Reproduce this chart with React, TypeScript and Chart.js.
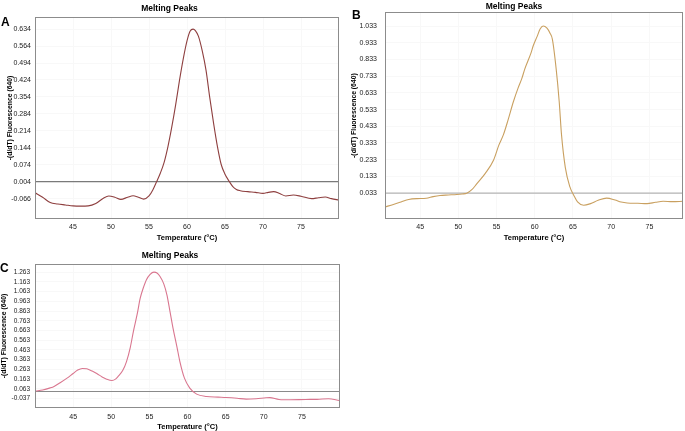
import React, { useEffect, useRef } from 'react';
import { Chart, registerables } from 'chart.js';
Chart.register(...registerables);

// ---------- Panel A ----------
const tempA = [40, 41, 42, 43, 44, 45, 46, 47, 48, 49, 49.7, 50.5, 51.3, 52.2, 52.9, 53.6, 54.3, 55, 55.5, 56, 56.5, 57, 57.5, 58, 58.5, 59, 59.5, 60, 60.4, 60.8, 61.1, 61.5, 62, 62.5, 63, 63.5, 64, 64.5, 65, 65.5, 66, 66.5, 67, 68, 69, 70, 70.7, 71.4, 72.2, 73, 74, 75, 76.4, 77.3, 78.2, 79, 80];
const valA = [-0.042, -0.06, -0.082, -0.088, -0.092, -0.096, -0.097, -0.096, -0.086, -0.064, -0.055, -0.06, -0.069, -0.06, -0.054, -0.06, -0.068, -0.055, -0.03, 0.004, 0.04, 0.085, 0.15, 0.23, 0.32, 0.42, 0.51, 0.585, 0.625, 0.634, 0.628, 0.605, 0.545, 0.465, 0.35, 0.245, 0.15, 0.075, 0.035, 0.008, -0.015, -0.028, -0.033, -0.037, -0.04, -0.044, -0.04, -0.037, -0.045, -0.055, -0.051, -0.056, -0.066, -0.062, -0.059, -0.066, -0.072];
const yTicksA = [-0.066, 0.004, 0.074, 0.144, 0.214, 0.284, 0.354, 0.424, 0.494, 0.564, 0.634];
const baseA = 0.004;

// ---------- Panel B ----------
const tempB = [40.4, 41.5, 42.5, 43.5, 44.6, 45.8, 46.7, 47.6, 48.7, 49.8, 50.5, 51.1, 51.8, 52.4, 53.5, 54.6, 55.3, 55.9, 56.5, 57.2, 57.8, 58.3, 58.7, 59.5, 59.8, 60.3, 60.7, 61.1, 61.6, 62.0, 62.3, 62.8, 63.2, 63.5, 64.0, 64.6, 65.1, 65.6, 66.4, 67.3, 68.3, 69.4, 70.5, 71.3, 72.1, 73.5, 74.7, 75.8, 76.8, 78, 79.4];
const valB = [-0.05, -0.035, -0.02, -0.005, 0.0, 0.002, 0.012, 0.019, 0.022, 0.025, 0.028, 0.032, 0.055, 0.088, 0.15, 0.23, 0.32, 0.383, 0.47, 0.58, 0.66, 0.718, 0.777, 0.871, 0.915, 0.97, 1.015, 1.033, 1.02, 0.99, 0.955, 0.777, 0.58, 0.383, 0.186, 0.07, 0.02, -0.02, -0.04, -0.03, -0.01, 0.003, -0.008, -0.02, -0.026, -0.028, -0.03, -0.022, -0.016, -0.018, -0.016];
const yTicksB = [0.033, 0.133, 0.233, 0.333, 0.433, 0.533, 0.633, 0.733, 0.833, 0.933, 1.033];
const baseB = 0.033;

// ---------- Panel C ----------
const tempC = [40.1, 41.0, 42.0, 42.5, 43.3, 44.2, 45.0, 45.6, 46.2, 46.8, 47.5, 48.1, 48.8, 49.4, 50.1, 50.6, 50.9, 51.5, 52.0, 52.5, 52.9, 53.4, 53.8, 54.2, 54.6, 55.1, 55.6, 56.0, 56.4, 56.9, 57.3, 57.7, 58.1, 58.6, 59.0, 59.6, 60.3, 61.2, 62.5, 64.0, 65.1, 66.5, 67.7, 69.0, 70.3, 70.8, 72.0, 73.5, 75.5, 77.0, 78.5, 79.9];
const valC = [0.04, 0.05, 0.072, 0.087, 0.125, 0.172, 0.22, 0.255, 0.272, 0.268, 0.245, 0.22, 0.185, 0.162, 0.148, 0.165, 0.19, 0.25, 0.343, 0.49, 0.652, 0.83, 0.995, 1.1, 1.183, 1.24, 1.263, 1.255, 1.218, 1.14, 1.03, 0.86, 0.687, 0.5, 0.343, 0.172, 0.07, 0.008, -0.017, -0.023, -0.027, -0.035, -0.044, -0.04, -0.03, -0.028, -0.047, -0.05, -0.047, -0.046, -0.04, -0.057];
const yTicksC = [-0.037, 0.063, 0.163, 0.263, 0.363, 0.463, 0.563, 0.663, 0.763, 0.863, 0.963, 1.063, 1.163, 1.263];
const baseC = 0.035;

const xTicks = [45, 50, 55, 60, 65, 70, 75];
const chartTitle = 'Melting Peaks';
const xTitle = 'Temperature (°C)';
const yTitle = '-(d/dT) Fluorescence (640)';

const FONT = '"Liberation Sans", Arial, sans-serif';

type PanelProps = {
  left: number; top: number; width: number; height: number;
  xs: number[]; ys: number[]; yTicks: number[]; base: number;
  xMin: number; xMax: number; yMin: number; yMax: number;
  color: string; baseColor: string;
  yW: number; xH: number; rightPad: number;
  titlePad: { top: number; bottom: number };
  yTickPad: number; yTickSize: number; yTitlePad: number;
  xTickPad: number; xTitlePad: number;
};

const boxPlugin = {
  id: 'box',
  afterDraw(chart: any) {
    const { ctx, chartArea: a } = chart;
    ctx.save();
    ctx.strokeStyle = '#8c8c8c';
    ctx.lineWidth = 1;
    ctx.strokeRect(Math.round(a.left) + 0.5, Math.round(a.top) + 0.5, Math.round(a.right - a.left) - 1, Math.round(a.bottom - a.top) - 1);
    ctx.restore();
  },
};

function Panel(p: PanelProps) {
  const ref = useRef<HTMLCanvasElement>(null);
  useEffect(() => {
    if (!ref.current) return;
    const chart = new Chart(ref.current, {
      type: 'line',
      data: {
        datasets: [
          {
            data: p.xs.map((x, i) => ({ x, y: p.ys[i] })),
            borderColor: p.color,
            borderWidth: 1.1,
            pointRadius: 0,
            cubicInterpolationMode: 'monotone',
            fill: false,
          },
          {
            data: [{ x: p.xMin, y: p.base }, { x: p.xMax, y: p.base }],
            borderColor: p.baseColor,
            borderWidth: 1.2,
            pointRadius: 0,
            fill: false,
          },
        ],
      },
      options: {
        animation: false,
        responsive: false,
        events: [],
        layout: { padding: { left: 0, right: p.rightPad, top: 0, bottom: 0 } },
        plugins: {
          legend: { display: false },
          tooltip: { enabled: false },
          title: {
            display: true,
            text: chartTitle,
            color: '#000',
            font: { family: FONT, size: 8.5, weight: 'bold' },
            padding: p.titlePad,
          },
        },
        scales: {
          x: {
            type: 'linear',
            min: p.xMin,
            max: p.xMax,
            afterBuildTicks: (s: any) => { s.ticks = xTicks.map((v) => ({ value: v })); },
            afterFit: (s: any) => { s.height = p.xH; },
            grid: { color: '#f8f8f8', drawTicks: false },
            border: { display: false },
            ticks: { autoSkip: false, maxRotation: 0, padding: p.xTickPad, color: '#222', font: { family: FONT, size: 7 }, callback: (v: any) => String(v) },
            title: { display: true, text: xTitle, color: '#000', font: { family: FONT, size: 7.5, weight: 'bold' }, padding: { top: 0, bottom: p.xTitlePad } },
          },
          y: {
            type: 'linear',
            min: p.yMin,
            max: p.yMax,
            afterBuildTicks: (s: any) => { s.ticks = p.yTicks.map((v) => ({ value: v })); },
            afterFit: (s: any) => { s.width = p.yW; },
            grid: { color: '#f8f8f8', drawTicks: false },
            border: { display: false },
            ticks: { autoSkip: false, padding: p.yTickPad, color: '#222', font: { family: FONT, size: p.yTickSize }, callback: (v: any) => Number(v).toFixed(3) },
            title: { display: true, text: yTitle, color: '#000', font: { family: FONT, size: 6.8, weight: 'bold' }, padding: { top: p.yTitlePad, bottom: 0 } },
          },
        },
      } as any,
      plugins: [boxPlugin],
    });
    return () => chart.destroy();
  }, []);
  return (
    <canvas
      ref={ref}
      width={p.width}
      height={p.height}
      style={{ position: 'absolute', left: p.left, top: p.top, width: p.width, height: p.height }}
    />
  );
}

const labelStyle: React.CSSProperties = {
  position: 'absolute',
  fontFamily: FONT,
  fontWeight: 'bold',
  fontSize: 12,
  lineHeight: '12px',
  color: '#000',
};

export default function App() {
  return (
    <div style={{ position: 'fixed', left: 0, top: 0, width: 685, height: 431, overflow: 'hidden', background: '#fff' }}>
      <Panel
        left={0} top={0} width={345} height={245}
        xs={tempA} ys={valA} yTicks={yTicksA} base={baseA}
        xMin={40} xMax={80} yMin={-0.15} yMax={0.684}
        color="#8e3f3f" baseColor="#7a7a7a"
        yW={35} xH={26} rightPad={6}
        titlePad={{ top: 4, bottom: 2.8 }}
        yTickPad={4} yTickSize={7} yTitlePad={5.6}
        xTickPad={4} xTitlePad={2.8}
      />
      <Panel
        left={345} top={0} width={350} height={245}
        xs={tempB} ys={valB} yTicks={yTicksB} base={baseB}
        xMin={40.4} xMax={79.4} yMin={-0.122} yMax={1.116}
        color="#c9a060" baseColor="#b4b4b4"
        yW={40} xH={26} rightPad={12}
        titlePad={{ top: 0, bottom: 0 }}
        yTickPad={8} yTickSize={7} yTitlePad={5.2}
        xTickPad={4} xTitlePad={2.8}
      />
      <Panel
        left={0} top={248} width={345} height={187}
        xs={tempC} ys={valC} yTicks={yTicksC} base={baseC}
        xMin={40} xMax={80} yMin={-0.135} yMax={1.348}
        color="#d9768f" baseColor="#8a8a8a"
        yW={35} xH={27} rightPad={5}
        titlePad={{ top: 3, bottom: 2.7 }}
        yTickPad={5} yTickSize={6.5} yTitlePad={0}
        xTickPad={5} xTitlePad={3.8}
      />
      <div style={{ ...labelStyle, left: 1, top: 15.5 }}>A</div>
      <div style={{ ...labelStyle, left: 352, top: 9 }}>B</div>
      <div style={{ ...labelStyle, left: 0, top: 261.5 }}>C</div>
    </div>
  );
}
